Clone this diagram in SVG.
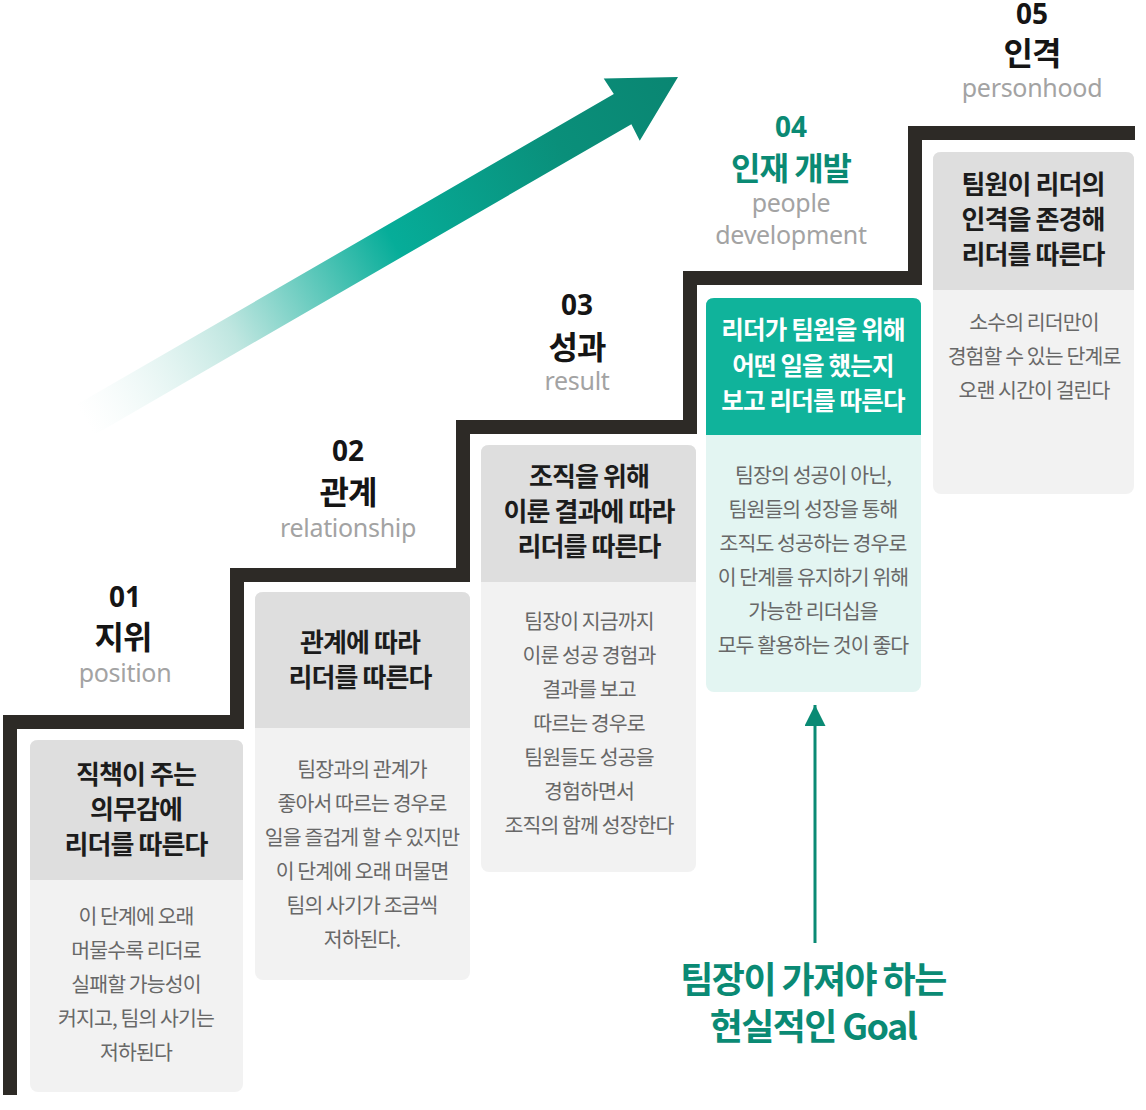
<svg xmlns="http://www.w3.org/2000/svg" width="1146" height="1110" viewBox="0 0 1146 1110">
<defs>
<style>
text{font-family:"Noto Sans CJK KR","Noto Sans",sans-serif;text-anchor:middle}
.hd{font-size:26px;font-weight:700;fill:#1c1c1c;letter-spacing:-0.9px}
.hdw{font-size:24.5px;font-weight:700;fill:#ffffff;letter-spacing:-0.8px}
.bd{font-size:20.5px;fill:#686868;letter-spacing:-0.9px}
.num{font-family:"Noto Sans",sans-serif;font-size:28px;font-weight:700;fill:#151515}
.ttl{font-size:32px;font-weight:700;fill:#151515;letter-spacing:-1px}
.en{font-family:"Noto Sans",sans-serif;font-size:25px;fill:#a3a3a3;letter-spacing:-0.3px}
.teal{fill:#0a8a74}
.goal{font-size:36px;font-weight:700;fill:#0a8a74;letter-spacing:-1.6px}
.hgray{fill:#dedede}
.bgray{fill:#f2f2f2}
.stair{fill:none;stroke:#2d2a26;stroke-width:14;stroke-linejoin:miter}
</style>
<linearGradient id="ag" gradientUnits="userSpaceOnUse" x1="-685" y1="0" x2="0" y2="0">
<stop offset="0" stop-color="#e6f5f3" stop-opacity="0"/>
<stop offset="0.25" stop-color="#bfe6e0"/>
<stop offset="0.52" stop-color="#06ad99"/>
<stop offset="0.8" stop-color="#0a8f7a"/>
<stop offset="1" stop-color="#0a8672"/>
</linearGradient>
<marker id="ah" viewBox="0 0 10 10" refX="10" refY="5" markerWidth="7" markerHeight="7" orient="auto" markerUnits="strokeWidth">
<path d="M0,0 L10,5 L0,10 z" fill="#0a8a74"/>
</marker>
</defs>

<g id="growth-arrow" transform="translate(678,77) rotate(-30.05)">
<path d="M-685,-17.5 L-64,-17.5 L-65,-36 L0,0 L-65,36 L-64,17.5 L-685,17.5 z" fill="url(#ag)"/>
</g>

<g id="staircase">
<path class="stair" d="M10,1095 L10,722 L237,722 L237,575 L463,575 L463,427 L690,427 L690,278 L915,278 L915,133 L1135,133"/>
</g>

<g id="step1">
<text class="num" x="125" y="607">01</text>
<text class="ttl" x="123" y="649">지위</text>
<text class="en" x="125" y="682">position</text>
</g>
<g id="step2">
<text class="num" x="348" y="461">02</text>
<text class="ttl" x="348" y="504">관계</text>
<text class="en" x="348" y="537">relationship</text>
</g>
<g id="step3">
<text class="num" x="577" y="315">03</text>
<text class="ttl" x="577" y="359">성과</text>
<text class="en" x="577" y="390">result</text>
</g>
<g id="step4">
<text class="num teal" x="791" y="137">04</text>
<text class="ttl teal" x="791" y="180">인재 개발</text>
<text class="en" x="791" y="212">people</text>
<text class="en" x="791" y="244">development</text>
</g>
<g id="step5">
<text class="num" x="1032" y="24">05</text>
<text class="ttl" x="1032" y="65">인격</text>
<text class="en" x="1032" y="97">personhood</text>
</g>

<g id="box1">
<rect class="bgray" x="30" y="740" width="213" height="352" rx="8"/>
<path class="hgray" d="M30,880 L30,748 Q30,740 38,740 L235,740 Q243,740 243,748 L243,880 z"/>
<text class="hd" x="136" y="784">직책이 주는</text>
<text class="hd" x="136" y="819">의무감에</text>
<text class="hd" x="136" y="854">리더를 따른다</text>
<text class="bd" x="136" y="924">이 단계에 오래</text>
<text class="bd" x="136" y="958">머물수록 리더로</text>
<text class="bd" x="136" y="992">실패할 가능성이</text>
<text class="bd" x="136" y="1026">커지고, 팀의 사기는</text>
<text class="bd" x="136" y="1060">저하된다</text>
</g>

<g id="box2">
<rect class="bgray" x="255" y="592" width="215" height="388" rx="8"/>
<path class="hgray" d="M255,728 L255,600 Q255,592 263,592 L462,592 Q470,592 470,600 L470,728 z"/>
<text class="hd" x="360" y="652">관계에 따라</text>
<text class="hd" x="360" y="687">리더를 따른다</text>
<text class="bd" x="362" y="777">팀장과의 관계가</text>
<text class="bd" x="362" y="811">좋아서 따르는 경우로</text>
<text class="bd" x="362" y="845">일을 즐겁게 할 수 있지만</text>
<text class="bd" x="362" y="879">이 단계에 오래 머물면</text>
<text class="bd" x="362" y="913">팀의 사기가 조금씩</text>
<text class="bd" x="362" y="947">저하된다.</text>
</g>

<g id="box3">
<rect class="bgray" x="481" y="445" width="215" height="427" rx="8"/>
<path class="hgray" d="M481,582 L481,453 Q481,445 489,445 L688,445 Q696,445 696,453 L696,582 z"/>
<text class="hd" x="589" y="486">조직을 위해</text>
<text class="hd" x="589" y="521">이룬 결과에 따라</text>
<text class="hd" x="589" y="556">리더를 따른다</text>
<text class="bd" x="589" y="629">팀장이 지금까지</text>
<text class="bd" x="589" y="663">이룬 성공 경험과</text>
<text class="bd" x="589" y="697">결과를 보고</text>
<text class="bd" x="589" y="731">따르는 경우로</text>
<text class="bd" x="589" y="765">팀원들도 성공을</text>
<text class="bd" x="589" y="799">경험하면서</text>
<text class="bd" x="589" y="833">조직의 함께 성장한다</text>
</g>

<g id="box4">
<rect x="706" y="298" width="215" height="394" rx="8" fill="#e3f5f2"/>
<path d="M706,435 L706,306 Q706,298 714,298 L913,298 Q921,298 921,306 L921,435 z" fill="#10b39b"/>
<text class="hdw" x="813" y="339">리더가 팀원을 위해</text>
<text class="hdw" x="813" y="375">어떤 일을 했는지</text>
<text class="hdw" x="813" y="410">보고 리더를 따른다</text>
<text class="bd" x="813" y="483">팀장의 성공이 아닌,</text>
<text class="bd" x="813" y="517">팀원들의 성장을 통해</text>
<text class="bd" x="813" y="551">조직도 성공하는 경우로</text>
<text class="bd" x="813" y="585">이 단계를 유지하기 위해</text>
<text class="bd" x="813" y="619">가능한 리더십을</text>
<text class="bd" x="813" y="653">모두 활용하는 것이 좋다</text>
</g>

<g id="box5">
<rect class="bgray" x="933" y="152" width="201" height="342" rx="8"/>
<path class="hgray" d="M933,290 L933,160 Q933,152 941,152 L1126,152 Q1134,152 1134,160 L1134,290 z"/>
<text class="hd" x="1033" y="194">팀원이 리더의</text>
<text class="hd" x="1033" y="229">인격을 존경해</text>
<text class="hd" x="1033" y="264">리더를 따른다</text>
<text class="bd" x="1034" y="330">소수의 리더만이</text>
<text class="bd" x="1034" y="364">경험할 수 있는 단계로</text>
<text class="bd" x="1034" y="398">오랜 시간이 걸린다</text>
</g>

<g id="connectors">
<line x1="815" y1="943" x2="815" y2="705" stroke="#0a8a74" stroke-width="3" marker-end="url(#ah)"/>
</g>

<g id="goal">
<text class="goal" x="813" y="993">팀장이 가져야 하는</text>
<text class="goal" x="813" y="1040">현실적인 Goal</text>
</g>
</svg>
